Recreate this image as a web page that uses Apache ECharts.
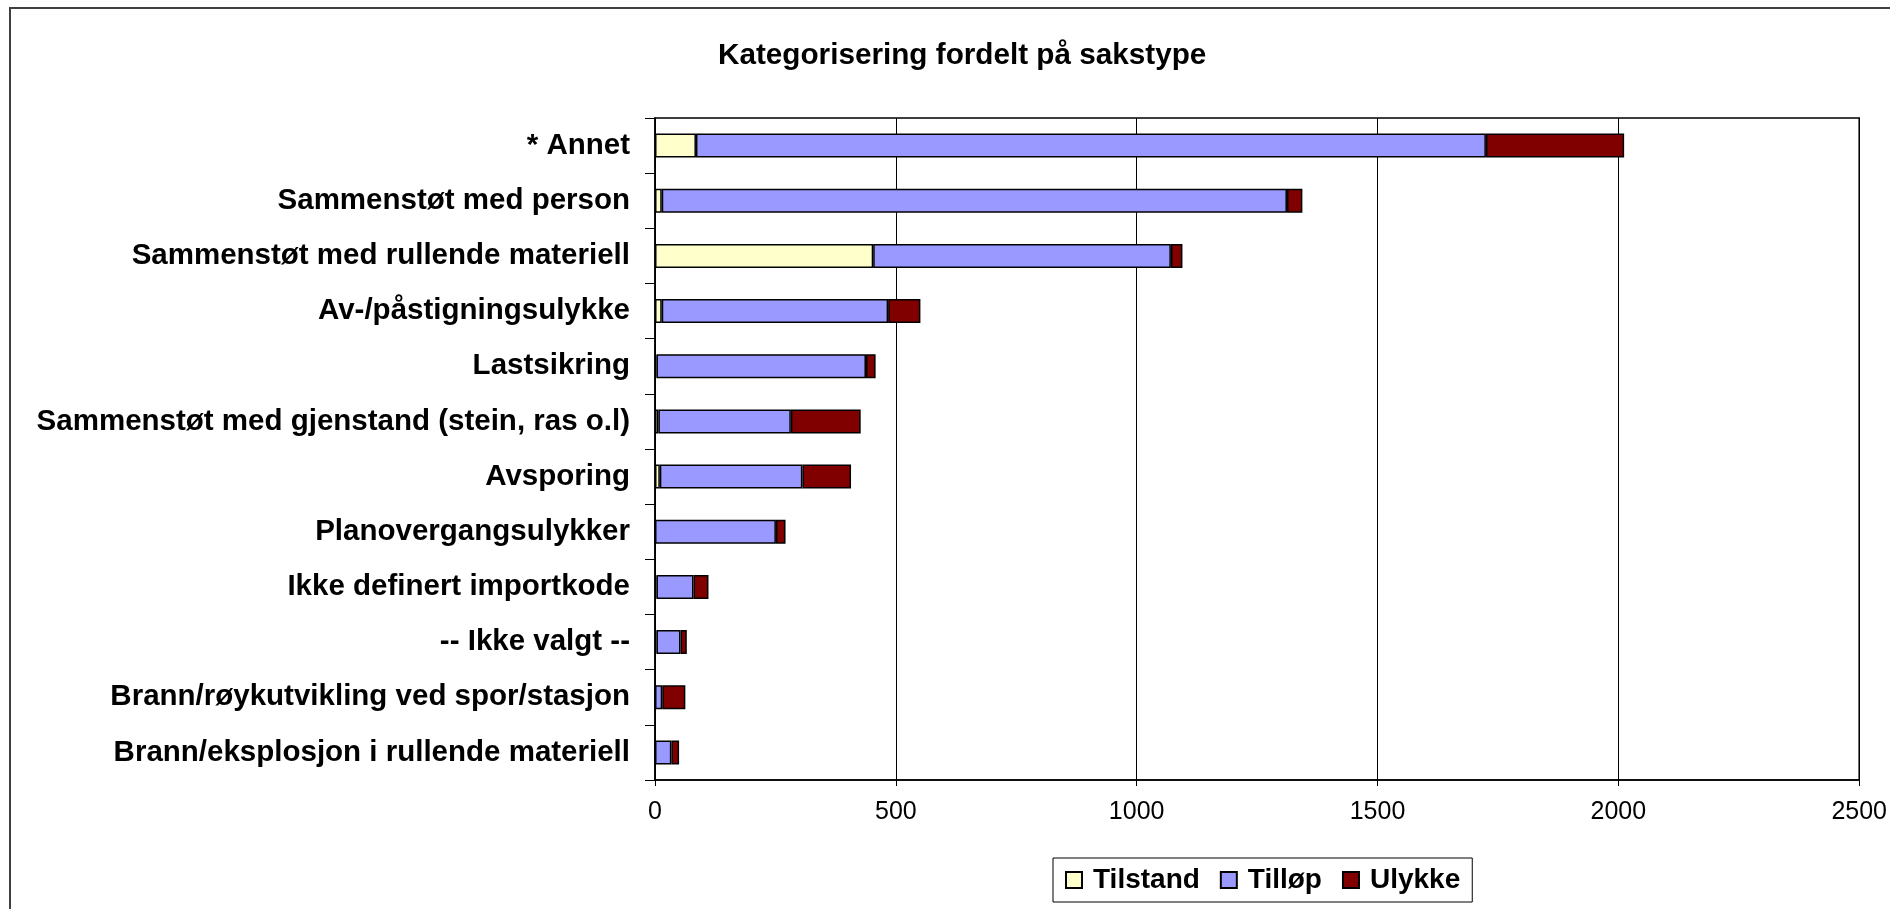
<!DOCTYPE html>
<html>
<head>
<meta charset="utf-8">
<script src="https://cdn.jsdelivr.net/npm/echarts@6/dist/echarts.min.js"></script>
<style>
  html, body { margin: 0; padding: 0; background: #fff; }
  #main { width: 1890px; height: 909px; }
</style>
</head>
<body>
<div id="main"></div>
<script>
// data
var categories = [
  '* Annet',
  'Sammenstøt med person',
  'Sammenstøt med rullende materiell',
  'Av-/påstigningsulykke',
  'Lastsikring',
  'Sammenstøt med gjenstand (stein, ras o.l)',
  'Avsporing',
  'Planovergangsulykker',
  'Ikke definert importkode',
  '-- Ikke valgt --',
  'Brann/røykutvikling ved spor/stasjon',
  'Brann/eksplosjon i rullende materiell'
];
var tilstand = [85, 14, 453, 14, 3, 7, 10, 0, 3, 3, 0, 0];
var tillop = [1640, 1298, 618, 470, 435, 275, 296, 251, 77, 50, 15, 34];
var ulykke = [287, 32, 24, 67, 20, 145, 101, 20, 31, 13, 48, 16];
var xTicks = [0, 2500, 500];

var font = 'Liberation Sans, Arial, sans-serif';

var chart = echarts.init(document.getElementById('main'));

function bar(name, data, color) {
  return {
    name: name,
    type: 'bar',
    stack: 'total',
    barWidth: 24,
    data: data,
    itemStyle: { color: color, borderColor: '#000', borderWidth: 1.5 }
  };
}

var option = {
  backgroundColor: '#fff',
  animation: false,
  title: {
    text: 'Kategorisering fordelt på sakstype',
    left: 713,
    top: 36,
    textStyle: { fontFamily: font, fontSize: 29.7, fontWeight: 'bold', color: '#000' }
  },
  graphic: [{
    type: 'rect',
    shape: { x: 10, y: 8, width: 1900, height: 920 },
    style: { fill: 'none', stroke: '#404040', lineWidth: 2 },
    silent: true
  }],
  legend: {
    left: 1053,
    top: 858,
    itemWidth: 16,
    itemHeight: 16,
    itemGap: 20,
    padding: [8, 12, 8, 12],
    borderColor: '#000',
    borderWidth: 1,
    icon: 'rect',
    textStyle: { fontFamily: font, fontSize: 28, fontWeight: 'bold', color: '#000', padding: [0, 0, 0, 6] }
  },
  grid: {
    left: 655,
    right: 30,
    top: 118,
    bottom: 129,
    show: true,
    borderColor: '#000',
    borderWidth: 1.5,
    containLabel: false
  },
  xAxis: {
    type: 'value',
    min: xTicks[0],
    max: xTicks[1],
    interval: xTicks[2],
    axisLine: { show: true, lineStyle: { color: '#000', width: 1.5 } },
    axisTick: { show: true, length: 6, lineStyle: { color: '#000' } },
    splitLine: { show: true, lineStyle: { color: '#000', width: 1 } },
    axisLabel: {
      fontFamily: font, fontSize: 25, color: '#000', margin: 20,
      formatter: function (v) { return String(v); }
    }
  },
  yAxis: {
    type: 'category',
    data: categories,
    inverse: true,
    axisLine: { show: true, lineStyle: { color: '#000', width: 1.5 } },
    axisTick: { show: true, length: 10, lineStyle: { color: '#000' } },
    axisLabel: { fontFamily: font, fontSize: 29.5, fontWeight: 'bold', color: '#000', margin: 25 }
  },
  series: [
    bar('Tilstand', tilstand, '#FFFFCC'),
    bar('Tilløp', tillop, '#9999FF'),
    bar('Ulykke', ulykke, '#800000')
  ]
};

chart.setOption(option);
</script>
</body>
</html>
